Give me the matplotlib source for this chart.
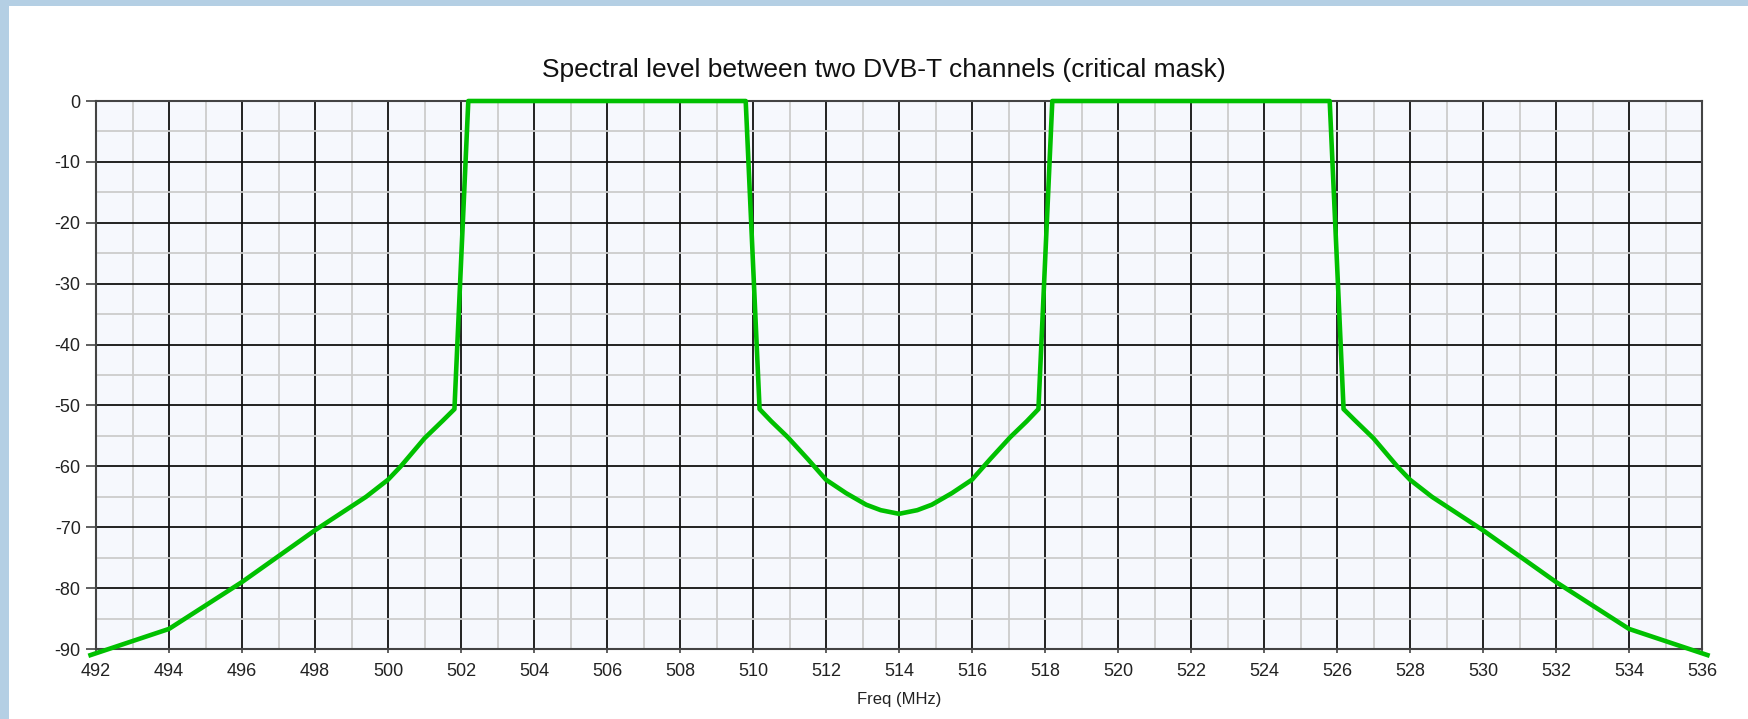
import matplotlib
matplotlib.use("Agg")
import matplotlib.pyplot as plt
from matplotlib.patches import Rectangle
from matplotlib.ticker import MultipleLocator

plt.rcParams['axes.unicode_minus'] = False

# mask breakpoints (MHz, dB)
freq = [491.85, 494, 496, 498, 499.4, 500, 500.35, 501, 501.5, 501.82, 502.2,
        509.8, 510.18, 510.5, 510.95, 511.5, 512, 512.55, 513.1, 513.5, 514,
        514.5, 514.9, 515.45, 516, 516.5, 517.05, 517.5, 517.82, 518.2,
        525.8, 526.18, 526.5, 527, 527.65, 528, 528.6, 530, 532, 534, 536.15]
level = [-91, -86.7, -79, -70.5, -65, -62.2, -60, -55.4, -52.5, -50.6, 0,
         0, -50.6, -52.6, -55.2, -58.8, -62.2, -64.4, -66.3, -67.2, -67.8,
         -67.2, -66.3, -64.4, -62.2, -58.8, -55.2, -52.6, -50.6, 0,
         0, -50.6, -52.5, -55.4, -60, -62.2, -65, -70.5, -79, -86.7, -91]

x_ticks = list(range(492, 537, 2))
y_ticks = list(range(-90, 1, 10))

W, H = 1749, 719
fig = plt.figure(figsize=(W / 100, H / 100), dpi=100)
fig.patch.set_facecolor('white')

# light blue frame on the left and top edges
fig.patches.append(Rectangle((0, 0), 9 / W, 1, transform=fig.transFigure,
                             facecolor='#b4cfe4', edgecolor='none'))
fig.patches.append(Rectangle((0, 1 - 6 / H), 1, 6 / H, transform=fig.transFigure,
                             facecolor='#b4cfe4', edgecolor='none'))

ax = fig.add_axes([96 / W, 1 - 649 / H, (1702 - 96) / W, (649 - 101) / H])
ax.set_facecolor('#f6f8fd')

ax.plot(freq, level, color='#00c000', lw=3.3, clip_on=False, zorder=5)

ax.set_xlim(492, 536)
ax.set_ylim(-90, 0)
ax.set_xticks(x_ticks)
ax.set_yticks(y_ticks)
ax.xaxis.set_minor_locator(MultipleLocator(1))
ax.yaxis.set_minor_locator(MultipleLocator(5))

ax.grid(which='minor', color='#cccccc', lw=1.3, zorder=0)
ax.grid(which='major', color='#111111', lw=1.3, zorder=1)
ax.set_axisbelow(True)

for s in ax.spines.values():
    s.set_color('#444444')
    s.set_linewidth(1.5)

lab_font = dict(family='Liberation Sans', size=12)
ax.tick_params(axis='y', which='major', length=7, width=1.2, color='#444444', pad=4)
ax.tick_params(axis='x', which='major', length=3, width=1.2, color='#444444', pad=7)
ax.tick_params(which='minor', length=0)
for lbl in ax.get_xticklabels() + ax.get_yticklabels():
    lbl.set_fontfamily('Liberation Sans')
    lbl.set_fontsize(13)
    lbl.set_color('#222222')

ax.set_xlabel('Freq (MHz)', fontdict=lab_font, color='#222222', labelpad=9)
fig.text(884 / W, 1 - 70 / H, 'Spectral level between two DVB-T channels (critical mask)',
         ha='center', va='center', family='Liberation Sans', size=19, color='#111111')

fig.savefig('out.png', dpi=100)
